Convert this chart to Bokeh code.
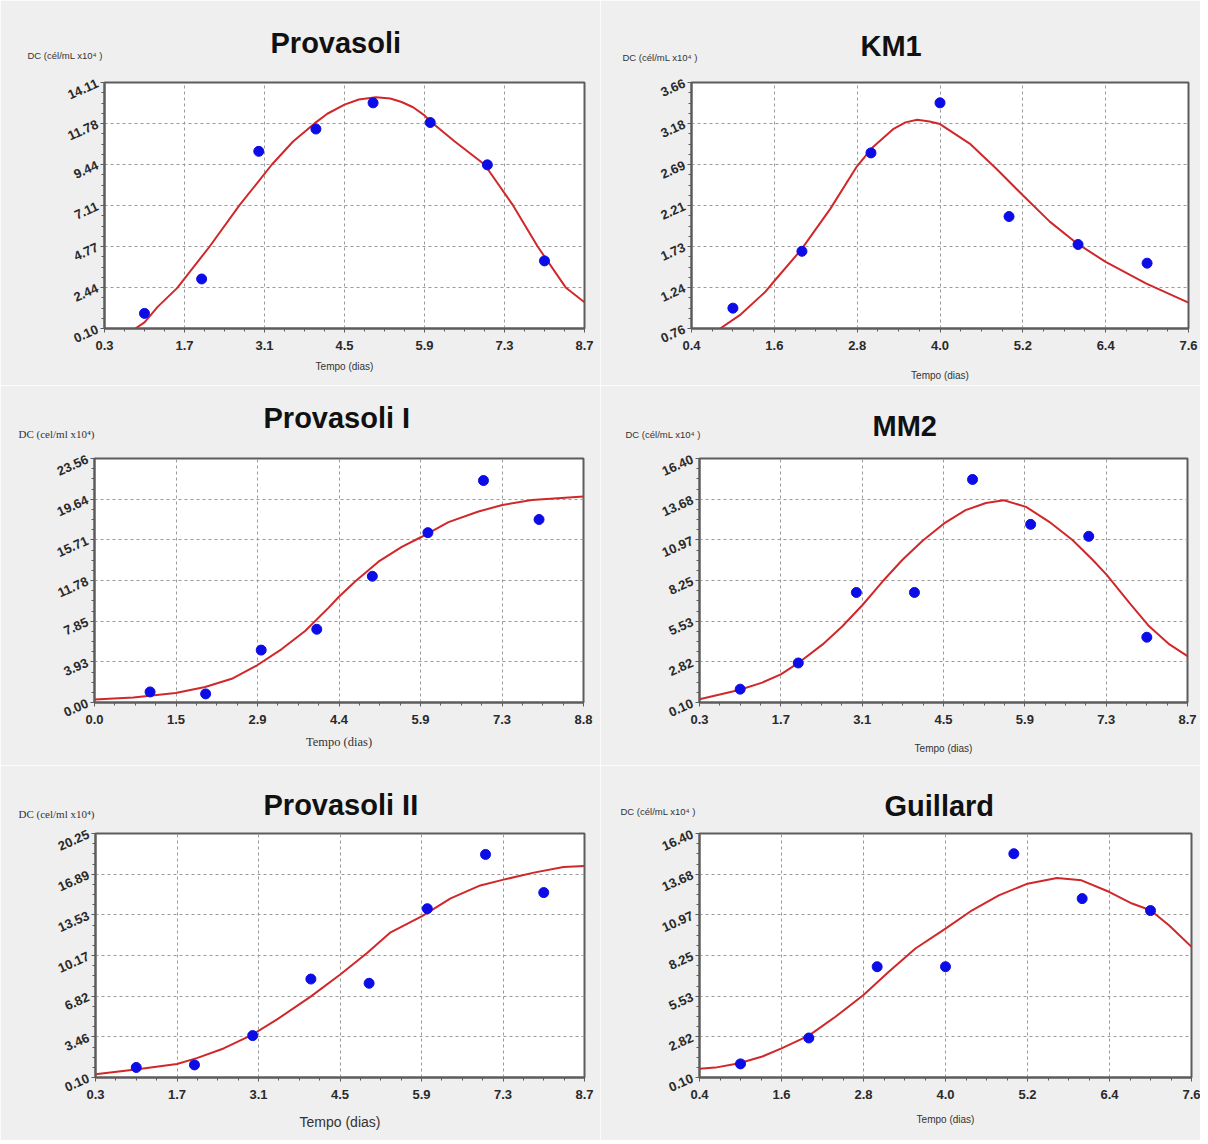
import numpy as np
from bokeh.plotting import figure
from bokeh.models import Range1d, FixedTicker, Title
from bokeh.layouts import column, row
from bokeh.embed import file_html
from bokeh.resources import INLINE

# ---------------- data ----------------
days = [1, 2, 3, 4, 5, 6, 7, 8]
days7 = [1, 2, 3, 4, 5, 6, 7]

# Provasoli
prov_y = [0.96, 2.92, 10.19, 11.46, 12.95, 11.83, 9.42, 3.95]
prov_fit_x = [0.84, 1.0, 1.23, 1.57, 2.14, 2.66, 3.23, 3.6, 3.975, 4.2, 4.5, 4.75, 5.05, 5.3, 5.5, 5.7, 5.9, 6.0, 6.43, 6.95, 7.45, 7.88, 8.37, 8.7]
prov_fit_y = [0.10, 0.45, 1.33, 2.40, 4.77, 7.11, 9.44, 10.75, 11.78, 12.33, 12.85, 13.14, 13.27, 13.2, 13.0, 12.7, 12.24, 11.9, 10.75, 9.44, 7.11, 4.77, 2.44, 1.59]
prov_xt = ["0.3", "1.7", "3.1", "4.5", "5.9", "7.3", "8.7"]
prov_yt = ["0.10", "2.44", "4.77", "7.11", "9.44", "11.78", "14.11"]

# KM1
km1_y = [1.00, 1.67, 2.83, 3.42, 2.08, 1.75, 1.53]
km1_fit_x = [0.815, 1.10, 1.466, 1.6, 1.99, 2.41, 2.80, 3.03, 3.32, 3.50, 3.67, 3.85, 4.0, 4.43, 4.82, 5.2, 5.59, 5.99, 6.40, 6.99, 7.6]
km1_fit_y = [0.76, 0.917, 1.19, 1.32, 1.69, 2.17, 2.675, 2.90, 3.11, 3.19, 3.22, 3.20, 3.17, 2.94, 2.64, 2.33, 2.02, 1.76, 1.545, 1.29, 1.066]
km1_xt = ["0.4", "1.6", "2.8", "4.0", "5.2", "6.4", "7.6"]
km1_yt = ["0.76", "1.24", "1.73", "2.21", "2.69", "3.18", "3.66"]

# Provasoli I
p1_y = [1.02, 0.83, 5.06, 7.07, 12.19, 16.40, 21.43, 17.67]
p1_fit_x = [0.0, 0.70, 1.46, 1.99, 2.47, 2.92, 3.37, 3.79, 4.21, 4.39, 4.69, 5.11, 5.53, 5.88, 6.37, 6.91, 7.34, 7.87, 8.8]
p1_fit_y = [0.29, 0.48, 0.92, 1.50, 2.29, 3.57, 5.16, 6.91, 9.14, 10.16, 11.69, 13.6, 15.03, 15.98, 17.42, 18.44, 19.07, 19.55, 19.9]
p1_xt = ["0.0", "1.5", "2.9", "4.4", "5.9", "7.3", "8.8"]
p1_yt = ["0.00", "3.93", "7.85", "11.78", "15.71", "19.64", "23.56"]

# MM2
mm2_y = [0.99, 2.74, 7.45, 7.45, 15.0, 12.0, 11.2, 4.46]
mm2_fit_x = [0.3, 0.98, 1.38, 1.70, 1.99, 2.42, 2.76, 3.11, 3.45, 3.79, 4.14, 4.51, 4.88, 5.23, 5.54, 5.92, 6.32, 6.72, 7.07, 7.31, 7.70, 8.04, 8.39, 8.7]
mm2_fit_y = [0.32, 0.94, 1.43, 1.98, 2.71, 3.98, 5.19, 6.63, 8.18, 9.62, 10.9, 12.06, 12.95, 13.43, 13.61, 13.17, 12.17, 10.95, 9.62, 8.63, 6.75, 5.19, 3.98, 3.2]
mm2_xt = ["0.3", "1.7", "3.1", "4.5", "5.9", "7.3", "8.7"]
mm2_yt = ["0.10", "2.82", "5.53", "8.25", "10.97", "13.68", "16.40"]

# Provasoli II
p2_y = [0.93, 1.14, 3.56, 8.23, 7.88, 14.04, 18.52, 15.37]
p2_fit_x = [0.3, 0.99, 1.70, 2.04, 2.50, 2.99, 3.42, 3.99, 4.51, 4.96, 5.37, 5.91, 6.40, 6.91, 7.31, 7.83, 8.34, 8.7]
p2_fit_y = [0.37, 0.77, 1.22, 1.70, 2.50, 3.62, 4.90, 6.76, 8.63, 10.36, 12.09, 13.43, 14.89, 15.96, 16.44, 17.02, 17.48, 17.56]
p2_xt = ["0.3", "1.7", "3.1", "4.5", "5.9", "7.3", "8.7"]
p2_yt = ["0.10", "3.46", "6.82", "10.17", "13.53", "16.89", "20.25"]

# Guillard
gu_y = [1.01, 2.74, 7.50, 7.50, 15.05, 12.05, 11.25]
gu_fit_x = [0.4, 0.63, 0.98, 1.32, 1.60, 2.0, 2.39, 2.80, 3.17, 3.56, 4.0, 4.39, 4.78, 5.20, 5.63, 5.99, 6.40, 6.73, 7.0, 7.27, 7.6]
gu_fit_y = [0.68, 0.76, 1.05, 1.50, 2.05, 2.90, 4.16, 5.61, 7.16, 8.72, 10.05, 11.27, 12.27, 13.05, 13.43, 13.27, 12.49, 11.72, 11.27, 10.27, 8.83]
gu_xt = ["0.4", "1.6", "2.8", "4.0", "5.2", "6.4", "7.6"]
gu_yt = ["0.10", "2.82", "5.53", "8.25", "10.97", "13.68", "16.40"]

# ---------------- styling ----------------
SANS = "Liberation Sans"
SERIF = "Liberation Serif"
DC_SANS = "DC (cél/mL x10\u2074 )"
DC_SERIF = "DC (cel/ml x10\u2074)"


def ticks_from(labels, n_minor=4):
    lo, hi = float(labels[0]), float(labels[-1])
    major = list(np.linspace(lo, hi, len(labels)))
    minor = []
    for a, b in zip(major[:-1], major[1:]):
        minor += list(np.linspace(a, b, n_minor + 1)[1:-1])
    return major, minor, lo, hi


def panel(title, xs, ys, fx, fy, xt, yt, geom, serif=False, xlab_font=SANS,
          xlab_size="10px", xlab_standoff=8):
    W, H, bl, br, bt, bb, t_off, t_stand, dc_off, dc_stand = geom
    p = figure(width=W, height=H, output_backend="svg", toolbar_location=None,
               min_border_left=bl, min_border_right=br, min_border_top=bt, min_border_bottom=bb)
    xmaj, xmin, x0, x1 = ticks_from(xt)
    ymaj, ymin, y0, y1 = ticks_from(yt)
    p.x_range = Range1d(x0, x1)
    p.y_range = Range1d(y0, y1)
    p.border_fill_color = "#efefef"
    p.background_fill_color = "#ffffff"
    p.outline_line_color = "#5c5c5c"
    p.outline_line_width = 2

    p.xaxis.ticker = FixedTicker(ticks=xmaj, minor_ticks=xmin)
    p.yaxis.ticker = FixedTicker(ticks=ymaj, minor_ticks=ymin)
    p.xaxis.major_label_overrides = {v: s for v, s in zip(xmaj, xt)}
    p.yaxis.major_label_overrides = {v: s for v, s in zip(ymaj, yt)}

    for ax in (p.xaxis, p.yaxis):
        ax.axis_line_color = "#5c5c5c"
        ax.axis_line_width = 2
        ax.major_tick_line_color = "#5c5c5c"
        ax.minor_tick_line_color = "#5c5c5c"
        ax.major_tick_in = 0
        ax.major_tick_out = 4
        ax.minor_tick_in = 0
        ax.minor_tick_out = 3
        ax.major_label_text_font = SANS
        ax.major_label_text_font_style = "bold"
        ax.major_label_text_font_size = "13px"
        ax.major_label_text_color = "#2a2a2a"
    p.xaxis.major_label_standoff = 8
    p.yaxis.major_label_standoff = 3
    p.yaxis.major_label_orientation = 0.42

    p.xaxis.axis_label = "Tempo (dias)"
    p.xaxis.axis_label_text_font = xlab_font
    p.xaxis.axis_label_text_font_style = "normal"
    p.xaxis.axis_label_text_font_size = xlab_size
    p.xaxis.axis_label_text_color = "#333333"
    p.xaxis.axis_label_standoff = xlab_standoff

    for g in (p.xgrid, p.ygrid):
        g.grid_line_color = "#9a9a9a"
        g.grid_line_dash = "3 3"
        g.grid_line_width = 1
    p.xgrid.ticker = FixedTicker(ticks=xmaj)
    p.ygrid.ticker = FixedTicker(ticks=ymaj)

    p.line(fx, fy, line_color="#d0282a", line_width=2)
    p.scatter(xs, ys, size=10, fill_color="#0c0ce6", line_color="#0c0ce6")

    # y-axis caption (closest to the frame)
    p.add_layout(Title(text=DC_SERIF if serif else DC_SANS, align="left", offset=dc_off,
                       standoff=dc_stand, text_font=SERIF if serif else SANS,
                       text_font_style="normal",
                       text_font_size="11px" if serif else "9.5px",
                       text_color="#333333"), "above")
    # panel title (outermost)
    p.title = Title(text=title, align="left", offset=t_off, standoff=t_stand,
                    text_font=SANS, text_font_style="bold", text_font_size="29px",
                    text_color="#111111")
    return p


#          W    H   bl  br  bt  bb  t_off t_st dc_off dc_st
g1 = (600, 385, 104, 16, 79, 56, 166, -67, -77, 44)
g2 = (600, 385, 91, 12, 82, 57, 169, -63, -69, 39)
g3 = (600, 380, 94, 17, 73, 61, 169, -55, -76, 38)
g4 = (600, 380, 99, 13, 72, 63, 173, -69, -74, 38)
g5 = (600, 375, 95, 16, 68, 55, 168, -59, -77, 28)
g6 = (600, 375, 99, 9, 68, 63, 185, -71, -79, 34)

f1 = panel("Provasoli", days, prov_y, prov_fit_x, prov_fit_y, prov_xt, prov_yt, g1, xlab_size="10px", xlab_standoff=8)
f2 = panel("KM1", days7, km1_y, km1_fit_x, km1_fit_y, km1_xt, km1_yt, g2, xlab_size="10px", xlab_standoff=17)
f3 = panel("Provasoli I", days, p1_y, p1_fit_x, p1_fit_y, p1_xt, p1_yt, g3, serif=True, xlab_font=SERIF, xlab_size="12.5px", xlab_standoff=8)
f4 = panel("MM2", days, mm2_y, mm2_fit_x, mm2_fit_y, mm2_xt, mm2_yt, g4, xlab_size="10px", xlab_standoff=16)
f5 = panel("Provasoli II", days, p2_y, p2_fit_x, p2_fit_y, p2_xt, p2_yt, g5, serif=True, xlab_font=SANS, xlab_size="14px", xlab_standoff=12)
f6 = panel("Guillard", days7, gu_y, gu_fit_x, gu_fit_y, gu_xt, gu_yt, g6, xlab_size="10px", xlab_standoff=12)

layout = column(row(f1, f2), row(f3, f4), row(f5, f6))
open("out.html", "w").write(file_html(layout, INLINE))
